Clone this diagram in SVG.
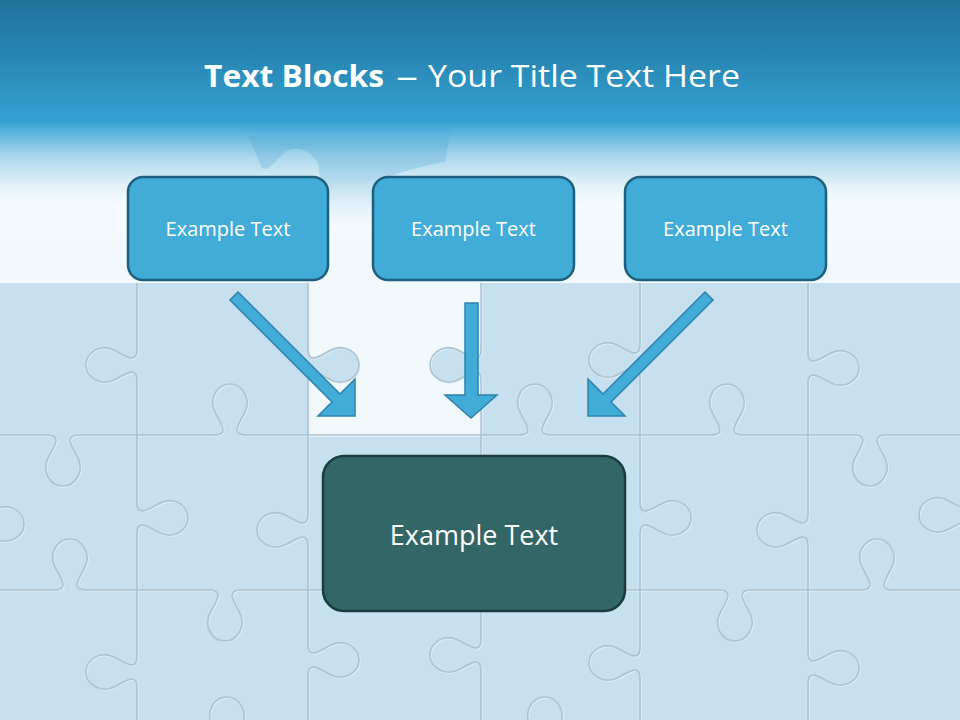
<svg xmlns="http://www.w3.org/2000/svg" width="960" height="720" viewBox="0 0 960 720">
<defs>
<linearGradient id="bg" x1="0" y1="0" x2="0" y2="283" gradientUnits="userSpaceOnUse">
<stop offset="0" stop-color="#21729a"/>
<stop offset="0.2" stop-color="#2886b2"/>
<stop offset="0.43" stop-color="#35a2d4"/>
<stop offset="0.46" stop-color="#52b1dc"/>
<stop offset="0.55" stop-color="#a9d6ec"/>
<stop offset="0.66" stop-color="#e6f3f9"/>
<stop offset="0.72" stop-color="#f4fafd"/>
<stop offset="1" stop-color="#f1f8fb"/>
</linearGradient>
<linearGradient id="ghost" x1="0" y1="124" x2="0" y2="225" gradientUnits="userSpaceOnUse">
<stop offset="0" stop-color="#4aa3d2" stop-opacity="0"/>
<stop offset="0.2" stop-color="#4aa3d2" stop-opacity="0.3"/>
<stop offset="0.55" stop-color="#4aa3d2" stop-opacity="0.25"/>
<stop offset="1" stop-color="#4aa3d2" stop-opacity="0"/>
</linearGradient>
<path id="cuts" d="M0,435 H47 c14,0 9,9 2,21 c-9,16 2,30 14,30 c11,0 23,-14 14,-30 c-7,-12 -12,-21 2,-21 H214 c14,0 9,-9 2,-21 c-9,-16 2,-30 14,-30 c11,0 23,14 14,30 c-7,12 -12,21 2,21 H519 c14,0 9,-9 2,-21 c-9,-16 2,-30 14,-30 c11,0 23,14 14,30 c-7,12 -12,21 2,21 H711 c14,0 9,-9 2,-21 c-9,-16 2,-30 14,-30 c11,0 23,14 14,30 c-7,12 -12,21 2,21 H854 c14,0 9,9 2,21 c-9,16 2,30 14,30 c11,0 23,-14 14,-30 c-7,-12 -12,-21 2,-21 H960
M0,590 H54 c14,0 9,-9 2,-21 c-9,-16 2,-30 14,-30 c11,0 23,14 14,30 c-7,12 -12,21 2,21 H209 c14,0 9,9 2,21 c-9,16 2,30 14,30 c11,0 23,-14 14,-30 c-7,-12 -12,-21 2,-21 H719 c14,0 9,9 2,21 c-9,16 2,30 14,30 c11,0 23,-14 14,-30 c-7,-12 -12,-21 2,-21 H861 c14,0 9,-9 2,-21 c-9,-16 2,-30 14,-30 c11,0 23,14 14,30 c-7,12 -12,21 2,21 H960
M0,748 H211 c14,0 9,-9 2,-21 c-9,-16 2,-30 14,-30 c11,0 23,14 14,30 c-7,12 -12,21 2,21 H529 c14,0 9,-9 2,-21 c-9,-16 2,-30 14,-30 c11,0 23,14 14,30 c-7,12 -12,21 2,21 H960
M137,283 V349 c0,14 -9,9 -21,2 c-16,-9 -30,2 -30,14 c0,11 14,23 30,14 c12,-7 21,-12 21,2 V502 c0,14 9,9 21,2 c16,-9 30,2 30,14 c0,11 -14,23 -30,14 c-12,-7 -21,-12 -21,2 V656 c0,14 -9,9 -21,2 c-16,-9 -30,2 -30,14 c0,11 14,23 30,14 c12,-7 21,-12 21,2 V720
M308,283 V349 c0,14 9,9 21,2 c16,-9 30,2 30,14 c0,11 -14,23 -30,14 c-12,-7 -21,-12 -21,2 V514 c0,14 -9,9 -21,2 c-16,-9 -30,2 -30,14 c0,11 14,23 30,14 c12,-7 21,-12 21,2 V644 c0,14 9,9 21,2 c16,-9 30,2 30,14 c0,11 -14,23 -30,14 c-12,-7 -21,-12 -21,2 V720
M481,283 V349 c0,14 -9,9 -21,2 c-16,-9 -30,2 -30,14 c0,11 14,23 30,14 c12,-7 21,-12 21,2 V639 c0,14 -9,9 -21,2 c-16,-9 -30,2 -30,14 c0,11 14,23 30,14 c12,-7 21,-12 21,2 V720
M640,283 V344 c0,14 -9,9 -21,2 c-16,-9 -30,2 -30,14 c0,11 14,23 30,14 c12,-7 21,-12 21,2 V502 c0,14 9,9 21,2 c16,-9 30,2 30,14 c0,11 -14,23 -30,14 c-12,-7 -21,-12 -21,2 V647 c0,14 -9,9 -21,2 c-16,-9 -30,2 -30,14 c0,11 14,23 30,14 c12,-7 21,-12 21,2 V720
M808,283 V352 c0,14 9,9 21,2 c16,-9 30,2 30,14 c0,11 -14,23 -30,14 c-12,-7 -21,-12 -21,2 V514 c0,14 -9,9 -21,2 c-16,-9 -30,2 -30,14 c0,11 14,23 30,14 c12,-7 21,-12 21,2 V652 c0,14 9,9 21,2 c16,-9 30,2 30,14 c0,11 -14,23 -30,14 c-12,-7 -21,-12 -21,2 V720
M970,435 V499 c0,14 -9,9 -21,2 c-16,-9 -30,2 -30,14 c0,11 14,23 30,14 c12,-7 21,-12 21,2 V590
M-27,435 V508 c0,14 9,9 21,2 c16,-9 30,2 30,14 c0,11 -14,23 -30,14 c-12,-7 -21,-12 -21,2 V590"/>
</defs>
<style>
.cut{fill:none;stroke:#adc3cf;stroke-width:1.6}
.hl{fill:none;stroke:#e4f1f8;stroke-width:1.2;opacity:0.7}
.top rect{fill:#42acd9;stroke:#1d5f7e;stroke-width:2.5}
.lbl{font-family:"Open Sans","Liberation Sans",sans-serif;fill:#ffffff;text-anchor:middle}
.arrow{fill:#42acd9;stroke:#2a82ad;stroke-width:1.5;stroke-linejoin:miter}
</style>
<!-- background -->
<rect x="0" y="0" width="960" height="283" fill="url(#bg)"/>
<path d="M243,124 L262,168 C268,172 276,160 285,152 C296,145 310,150 318,163 L327,225 L372,225 L380,180 C400,172 425,165 445,162 L452,124 Z" fill="url(#ghost)"/>
<rect x="0" y="283" width="960" height="437" fill="#c6e0ef"/>
<rect x="308" y="283" width="173" height="154" fill="#f2f9fc"/>
<path d="M308,349 c0,14 9,9 21,2 c16,-9 30,2 30,14 c0,11 -14,23 -30,14 c-12,-7 -21,-12 -21,2 Z" fill="#c6e0ef"/>
<path d="M481,349 c0,14 -9,9 -21,2 c-16,-9 -30,2 -30,14 c0,11 14,23 30,14 c12,-7 21,-12 21,2 Z" fill="#c6e0ef"/>
<g id="puzzle">
<use href="#cuts" class="hl" transform="translate(1.2,1.2)"/>
<use href="#cuts" class="cut"/>
</g>
<!-- title -->
<g id="title" font-family="'Open Sans','Liberation Sans',sans-serif" fill="#ffffff" font-size="31">
<text x="204" y="87" font-weight="bold" textLength="180" lengthAdjust="spacingAndGlyphs">Text Blocks</text>
<text x="396" y="87" textLength="22" lengthAdjust="spacingAndGlyphs">–</text>
<text x="428" y="87" textLength="312" lengthAdjust="spacingAndGlyphs">Your Title Text Here</text>
</g>
<!-- connectors -->
<g id="connectors">
<polygon class="arrow" points="238,292 340,394 355,379 355,416 318,416 332,402 230,300"/>
<polygon class="arrow" points="465,303 478,303 478,395 497,395 471,418 445,395 465,395"/>
<polygon class="arrow" points="705,292 603,394 588,379 588,416 625,416 611,402 713,300"/>
</g>
<!-- nodes -->
<g id="node1" class="top">
<rect x="128" y="177" width="200" height="103" rx="15"/>
<text class="lbl" x="228" y="236" font-size="20">Example Text</text>
</g>
<g id="node2" class="top">
<rect x="373" y="177" width="201" height="103" rx="15"/>
<text class="lbl" x="473.5" y="236" font-size="20">Example Text</text>
</g>
<g id="node3" class="top">
<rect x="625" y="177" width="201" height="103" rx="15"/>
<text class="lbl" x="725.5" y="236" font-size="20">Example Text</text>
</g>
<g id="node4">
<rect x="323" y="456" width="302" height="155" rx="21" fill="#336666" stroke="#1b3c3c" stroke-width="2.5"/>
<text class="lbl" x="474" y="545" font-size="27">Example Text</text>
</g>
</svg>
